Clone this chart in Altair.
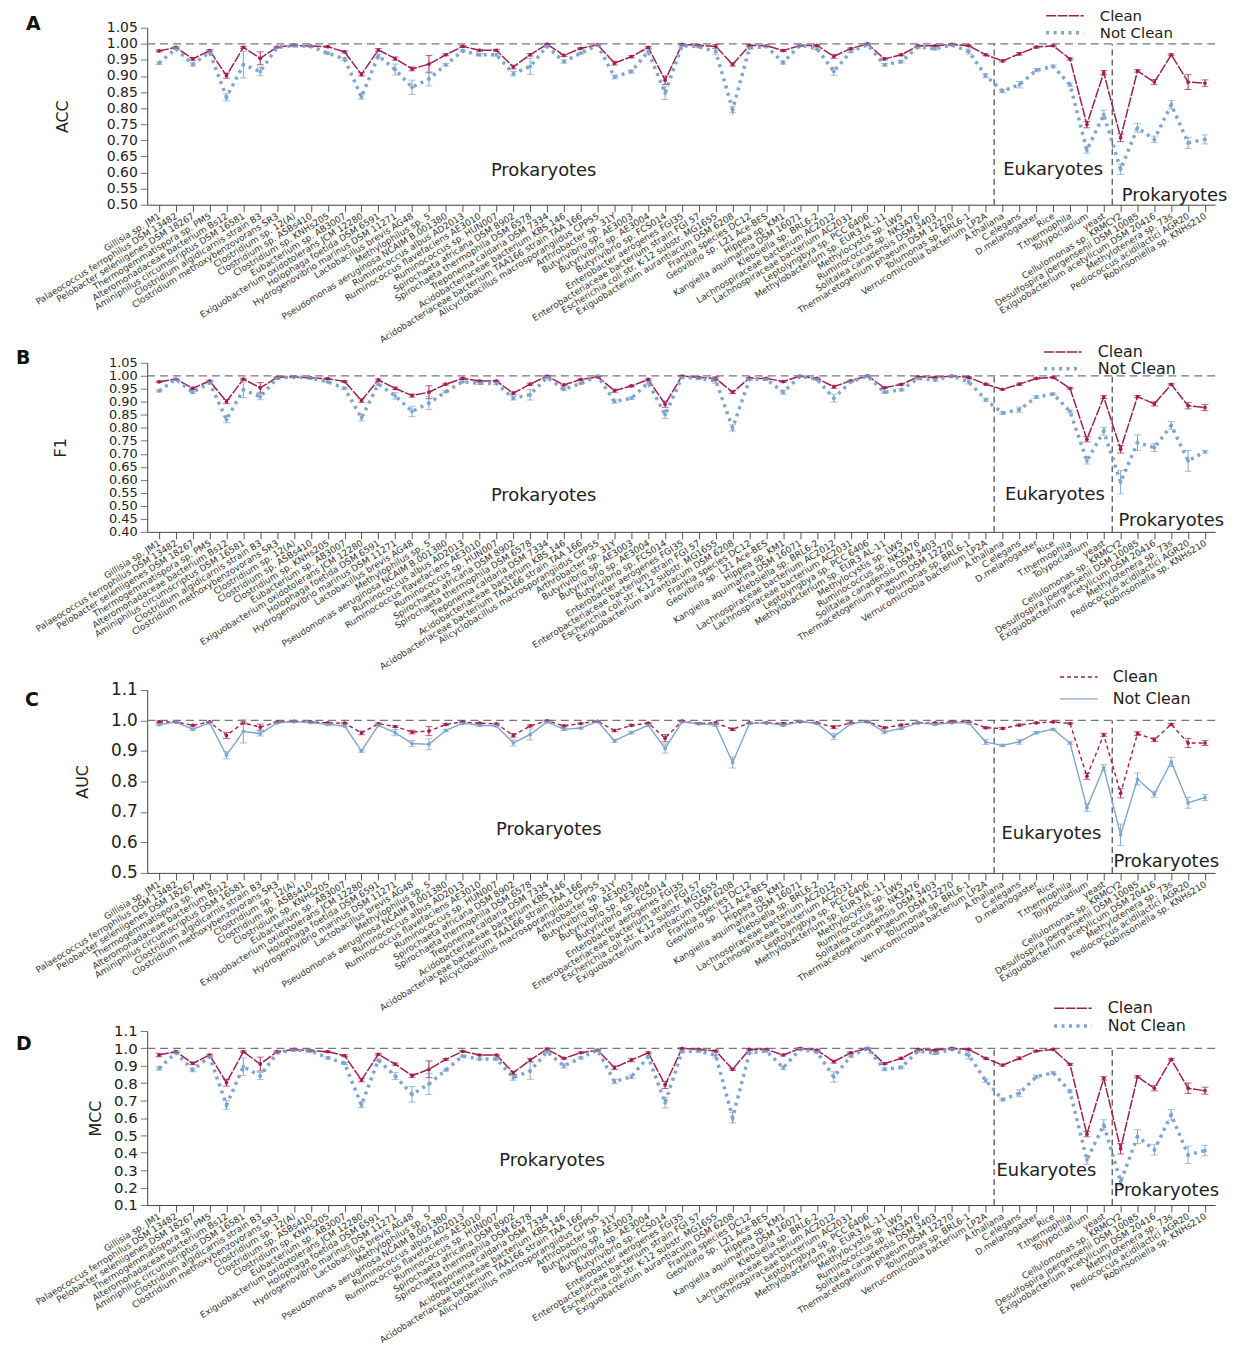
import json
import altair as alt
import pandas as pd

FONT = "DejaVu Sans"
CLEAN = "#A01F50"
NOTCLEAN = "#7FA5CF"
SERIES = ["Clean", "Not Clean"]

names = [
    "Gillisia sp. JM1", "Palaeococcus ferrophilus DSM 13482", "Pelobacter seleniigenes DSM 18267",
    "Thermogemmatispora sp. PM5", "Alteromonadaceae bacterium Bs12", "Aminiphilus circumscriptus DSM 16581",
    "Clostridium algidicarnis strain B3", "Clostridium methoxybenzovorans SR3", "Clostridium sp. 12(A)",
    "Clostridium sp. ASBs410", "Clostridium sp. KNHs205", "Eubacterium sp. AB3007",
    "Exiguobacterium oxidotolerans JCM 12280", "Holophaga foetida DSM 6591", "Hydrogenovibrio marinus DSM 11271",
    "Lactobacillus brevis AG48", "Methylophilus sp. 5", "Pseudomonas aeruginosa NCAIM B.001380",
    "Ruminococcus albus AD2013", "Ruminococcus flavefaciens AE3010", "Ruminococcus sp. HUN007",
    "Spirochaeta africana DSM 8902", "Spirochaeta thermophila DSM 6578", "Treponema caldaria DSM 7334",
    "Acidobacteriaceae bacterium KBS 146", "Acidobacteriaceae bacterium TAA166 strain TAA 166",
    "Alicyclobacillus macrosporangiidus CPP55", "Arthrobacter sp. 31Y", "Butyrivibrio sp. AE3003",
    "Butyrivibrio sp. AE3004", "Butyrivibrio sp. FCS014", "Enterobacter aerogenes FGI35",
    "Enterobacteriaceae bacterium strain FGI 57", "Escherichia coli str. K-12 substr. MG1655",
    "Exiguobacterium aurantiacum DSM 6208", "Frankia species DC12", "Geovibrio sp. L21 Ace-BES",
    "Hippea sp. KM1", "Kangiella aquimarina DSM 16071", "Klebsiella sp. BRL6-2",
    "Lachnospiraceae bacterium AC2012", "Lachnospiraceae bacterium AC2031", "Leptolyngbya sp. PCC 6406",
    "Methylobacterium sp. EUR3 AL-11", "Methylocystis sp. LW5", "Ruminococcus sp. NK3A76",
    "Solitalea canadensis DSM 3403", "Thermacetogenium phaeum DSM 12270", "Tolumonas sp. BRL6-1",
    "Verrucomicrobia bacterium LP2A", "A.thaliana", "C.elegans", "D.melanogaster", "Rice",
    "T.thermophila", "Tolypocladium", "yeast", "Cellulomonas sp. KRMCY2",
    "Desulfospira joergensenii DSM 10085", "Exiguobacterium acetylicum DSM 20416",
    "Methylotenera sp. 73s", "Pediococcus acidilactici AGR20", "Robinsoniella sp. KNHs210",
]

# ---- Panel A: ACC ----
acc_clean = [0.978, 0.989, 0.953, 0.979, 0.901, 0.989, 0.955, 0.990, 0.995, 0.993,
             0.991, 0.975, 0.905, 0.981, 0.954, 0.922, 0.937, 0.966, 0.992, 0.980,
             0.980, 0.928, 0.966, 0.999, 0.964, 0.986, 0.997, 0.940, 0.960, 0.989,
             0.887, 0.998, 0.995, 0.992, 0.936, 0.995, 0.994, 0.979, 0.995, 0.995,
             0.961, 0.985, 1.000, 0.953, 0.966, 0.994, 0.994, 0.998, 0.994, 0.966,
             0.947, 0.969, 0.990, 0.994, 0.953, 0.749, 0.911,
             0.708, 0.916, 0.881, 0.966, 0.881, 0.878]
acc_notclean = [0.940, 0.985, 0.936, 0.974, 0.834, 0.935, 0.914, 0.989, 0.994, 0.992,
                0.971, 0.953, 0.835, 0.963, 0.920, 0.865, 0.891, 0.935, 0.978, 0.966,
                0.966, 0.907, 0.930, 0.992, 0.945, 0.971, 0.996, 0.897, 0.914, 0.976,
                0.847, 0.994, 0.991, 0.976, 0.796, 0.987, 0.992, 0.942, 0.996, 0.985,
                0.914, 0.976, 0.997, 0.935, 0.945, 0.990, 0.985, 0.996, 0.976, 0.901,
                0.853, 0.873, 0.918, 0.930, 0.873, 0.670, 0.780,
                0.610, 0.739, 0.703, 0.811, 0.692, 0.703]
acc_clean_err = [0.003, 0.002, 0.004, 0.003, 0.008, 0.003, 0.020, 0.002, 0.002, 0.002,
                 0.002, 0.003, 0.005, 0.004, 0.005, 0.006, 0.027, 0.003, 0.003, 0.003,
                 0.003, 0.006, 0.004, 0.002, 0.003, 0.002, 0.002, 0.006, 0.003, 0.003,
                 0.013, 0.002, 0.002, 0.006, 0.005, 0.002, 0.002, 0.003, 0.002, 0.002,
                 0.006, 0.002, 0.002, 0.003, 0.003, 0.002, 0.002, 0.002, 0.002, 0.003,
                 0.003, 0.004, 0.003, 0.002, 0.003, 0.010, 0.006,
                 0.012, 0.004, 0.008, 0.003, 0.023, 0.010]
acc_notclean_err = [0.004, 0.003, 0.005, 0.004, 0.011, 0.041, 0.013, 0.003, 0.002, 0.002,
                    0.003, 0.004, 0.007, 0.005, 0.017, 0.022, 0.022, 0.004, 0.003, 0.004,
                    0.004, 0.007, 0.025, 0.003, 0.005, 0.003, 0.002, 0.006, 0.005, 0.005,
                    0.020, 0.003, 0.003, 0.010, 0.010, 0.003, 0.003, 0.005, 0.002, 0.003,
                    0.012, 0.003, 0.002, 0.004, 0.004, 0.003, 0.004, 0.002, 0.008, 0.006,
                    0.005, 0.010, 0.005, 0.004, 0.005, 0.010, 0.014,
                    0.016, 0.014, 0.010, 0.013, 0.017, 0.014]

# ---- Panel B: F1 ----
f1_clean = [0.977, 0.987, 0.952, 0.980, 0.901, 0.987, 0.954, 0.994, 0.996, 0.992,
            0.989, 0.978, 0.905, 0.984, 0.952, 0.924, 0.937, 0.968, 0.990, 0.980,
            0.980, 0.933, 0.968, 0.999, 0.965, 0.986, 0.996, 0.943, 0.961, 0.986,
            0.891, 0.999, 0.994, 0.990, 0.937, 0.991, 0.990, 0.978, 0.999, 0.990,
            0.958, 0.981, 1.000, 0.954, 0.967, 0.996, 0.994, 0.999, 0.994, 0.968,
            0.948, 0.968, 0.990, 0.994, 0.952, 0.756, 0.918,
            0.718, 0.920, 0.892, 0.967, 0.885, 0.878]
f1_notclean = [0.942, 0.987, 0.937, 0.973, 0.832, 0.946, 0.920, 0.991, 0.996, 0.991,
               0.977, 0.952, 0.838, 0.968, 0.923, 0.863, 0.895, 0.939, 0.977, 0.971,
               0.971, 0.914, 0.927, 0.994, 0.948, 0.971, 0.999, 0.901, 0.914, 0.973,
               0.851, 0.994, 0.990, 0.981, 0.800, 0.986, 0.987, 0.937, 0.999, 0.986,
               0.914, 0.977, 0.999, 0.937, 0.946, 0.990, 0.984, 0.999, 0.977, 0.908,
               0.857, 0.870, 0.918, 0.930, 0.863, 0.673, 0.787,
               0.591, 0.743, 0.724, 0.809, 0.673, 0.708]
f1_clean_err = [0.003, 0.002, 0.004, 0.003, 0.008, 0.003, 0.020, 0.002, 0.002, 0.002,
                0.002, 0.003, 0.007, 0.004, 0.005, 0.006, 0.025, 0.003, 0.003, 0.003,
                0.003, 0.006, 0.004, 0.002, 0.003, 0.002, 0.002, 0.006, 0.003, 0.003,
                0.012, 0.002, 0.002, 0.006, 0.005, 0.002, 0.002, 0.003, 0.002, 0.002,
                0.006, 0.002, 0.002, 0.003, 0.003, 0.002, 0.002, 0.002, 0.002, 0.003,
                0.003, 0.004, 0.003, 0.002, 0.003, 0.010, 0.006,
                0.015, 0.004, 0.008, 0.003, 0.012, 0.012]
f1_notclean_err = [0.004, 0.003, 0.005, 0.004, 0.012, 0.030, 0.012, 0.003, 0.002, 0.002,
                   0.003, 0.004, 0.012, 0.005, 0.012, 0.020, 0.025, 0.004, 0.003, 0.004,
                   0.004, 0.007, 0.020, 0.003, 0.005, 0.003, 0.002, 0.006, 0.005, 0.005,
                   0.015, 0.003, 0.003, 0.010, 0.012, 0.003, 0.003, 0.008, 0.002, 0.003,
                   0.015, 0.003, 0.002, 0.004, 0.004, 0.003, 0.004, 0.002, 0.008, 0.006,
                   0.005, 0.010, 0.005, 0.004, 0.005, 0.012, 0.015,
                   0.045, 0.030, 0.015, 0.015, 0.040, 0.005]

# ---- Panel C: AUC ----
auc_clean = [0.995, 0.995, 0.984, 0.995, 0.951, 0.992, 0.978, 0.995, 0.997, 0.995,
             0.992, 0.991, 0.959, 0.989, 0.980, 0.962, 0.965, 0.987, 0.995, 0.991,
             0.989, 0.951, 0.982, 0.999, 0.982, 0.990, 0.997, 0.967, 0.984, 0.991,
             0.942, 0.998, 0.990, 0.992, 0.971, 0.992, 0.992, 0.990, 0.996, 0.992,
             0.978, 0.992, 0.996, 0.976, 0.985, 0.992, 0.992, 0.995, 0.996, 0.976,
             0.974, 0.985, 0.992, 0.995, 0.990, 0.817, 0.953,
             0.761, 0.957, 0.937, 0.987, 0.926, 0.926]
auc_notclean = [0.986, 0.995, 0.971, 0.992, 0.886, 0.964, 0.957, 0.992, 0.996, 0.993,
                0.987, 0.982, 0.900, 0.984, 0.960, 0.924, 0.922, 0.967, 0.991, 0.984,
                0.982, 0.926, 0.954, 0.995, 0.971, 0.975, 0.997, 0.933, 0.960, 0.984,
                0.908, 0.995, 0.989, 0.985, 0.862, 0.990, 0.992, 0.984, 0.996, 0.990,
                0.947, 0.989, 0.996, 0.962, 0.974, 0.992, 0.987, 0.992, 0.992, 0.929,
                0.918, 0.930, 0.960, 0.971, 0.926, 0.714, 0.845,
                0.625, 0.808, 0.758, 0.864, 0.730, 0.747]
auc_clean_err = [0.003, 0.002, 0.003, 0.002, 0.010, 0.003, 0.010, 0.002, 0.002, 0.002,
                 0.002, 0.002, 0.006, 0.003, 0.003, 0.006, 0.015, 0.003, 0.002, 0.002,
                 0.002, 0.006, 0.003, 0.002, 0.003, 0.002, 0.002, 0.004, 0.003, 0.002,
                 0.012, 0.002, 0.002, 0.003, 0.004, 0.002, 0.002, 0.002, 0.002, 0.002,
                 0.005, 0.002, 0.002, 0.003, 0.003, 0.002, 0.002, 0.002, 0.002, 0.003,
                 0.003, 0.003, 0.002, 0.002, 0.002, 0.010, 0.005,
                 0.015, 0.006, 0.006, 0.003, 0.015, 0.008]
auc_notclean_err = [0.003, 0.002, 0.004, 0.003, 0.012, 0.038, 0.008, 0.002, 0.002, 0.002,
                    0.003, 0.003, 0.004, 0.003, 0.010, 0.010, 0.018, 0.004, 0.002, 0.003,
                    0.003, 0.010, 0.018, 0.002, 0.004, 0.003, 0.002, 0.005, 0.004, 0.003,
                    0.015, 0.002, 0.002, 0.005, 0.018, 0.002, 0.002, 0.004, 0.002, 0.002,
                    0.010, 0.002, 0.002, 0.004, 0.004, 0.002, 0.003, 0.002, 0.004, 0.008,
                    0.004, 0.008, 0.004, 0.003, 0.004, 0.012, 0.010,
                    0.035, 0.020, 0.010, 0.015, 0.018, 0.010]

# ---- Panel D: MCC ----
mcc_clean = [0.962, 0.981, 0.914, 0.962, 0.803, 0.981, 0.910, 0.981, 0.994, 0.987,
             0.981, 0.958, 0.818, 0.966, 0.910, 0.843, 0.880, 0.937, 0.983, 0.962,
             0.962, 0.860, 0.933, 0.996, 0.943, 0.975, 0.990, 0.889, 0.933, 0.975,
             0.790, 1.000, 0.994, 0.985, 0.880, 0.994, 0.994, 0.962, 1.000, 0.990,
             0.924, 0.975, 1.000, 0.912, 0.943, 0.994, 0.990, 1.000, 0.994, 0.943,
             0.904, 0.943, 0.985, 0.994, 0.908, 0.507, 0.828,
             0.423, 0.837, 0.771, 0.937, 0.771, 0.757]
mcc_notclean = [0.885, 0.975, 0.876, 0.952, 0.675, 0.895, 0.841, 0.975, 0.990, 0.985,
                0.946, 0.914, 0.675, 0.933, 0.841, 0.736, 0.795, 0.876, 0.956, 0.939,
                0.939, 0.832, 0.870, 0.981, 0.899, 0.946, 0.990, 0.809, 0.837, 0.952,
                0.688, 0.981, 0.985, 0.960, 0.602, 0.975, 0.985, 0.889, 0.994, 0.979,
                0.836, 0.956, 1.000, 0.880, 0.891, 0.985, 0.971, 0.994, 0.960, 0.815,
                0.706, 0.742, 0.837, 0.860, 0.753, 0.360, 0.560,
                0.235, 0.493, 0.417, 0.618, 0.388, 0.413]
mcc_clean_err = [0.010, 0.004, 0.006, 0.005, 0.020, 0.005, 0.040, 0.004, 0.004, 0.004,
                 0.004, 0.005, 0.010, 0.005, 0.006, 0.010, 0.048, 0.005, 0.004, 0.004,
                 0.004, 0.010, 0.010, 0.006, 0.005, 0.004, 0.004, 0.010, 0.010, 0.005,
                 0.020, 0.004, 0.004, 0.005, 0.006, 0.004, 0.004, 0.005, 0.004, 0.004,
                 0.008, 0.004, 0.004, 0.005, 0.006, 0.004, 0.004, 0.004, 0.004, 0.005,
                 0.005, 0.008, 0.004, 0.004, 0.005, 0.015, 0.010,
                 0.030, 0.006, 0.015, 0.005, 0.030, 0.020]
mcc_notclean_err = [0.010, 0.005, 0.010, 0.006, 0.025, 0.050, 0.020, 0.005, 0.005, 0.005,
                    0.006, 0.006, 0.015, 0.006, 0.020, 0.045, 0.060, 0.006, 0.005, 0.005,
                    0.005, 0.015, 0.048, 0.005, 0.012, 0.006, 0.005, 0.012, 0.010, 0.006,
                    0.030, 0.005, 0.005, 0.015, 0.030, 0.005, 0.005, 0.010, 0.005, 0.005,
                    0.030, 0.006, 0.005, 0.008, 0.008, 0.005, 0.006, 0.005, 0.020, 0.010,
                    0.008, 0.020, 0.008, 0.006, 0.008, 0.025, 0.030,
                    0.025, 0.040, 0.030, 0.030, 0.050, 0.030]

# tick label lists
acc_ticks = [0.50, 0.55, 0.60, 0.65, 0.70, 0.75, 0.80, 0.85, 0.90, 0.95, 1.00, 1.05]
f1_ticks = [0.40, 0.45, 0.50, 0.55, 0.60, 0.65, 0.70, 0.75, 0.80, 0.85, 0.90, 0.95, 1.00, 1.05]
auc_ticks = [0.5, 0.6, 0.7, 0.8, 0.9, 1.0, 1.1]
mcc_ticks = [0.1, 0.2, 0.3, 0.4, 0.5, 0.6, 0.7, 0.8, 0.9, 1.0, 1.1]

region_labels = ["Prokaryotes", "Eukaryotes", "Prokaryotes"]
boundaries = [names.index("A.thaliana") - 0.5, names.index("Cellulomonas sp. KRMCY2") - 0.5]

N = len(names)
X_DOMAIN = [-0.7, N - 0.4]

xaxis = alt.Axis(
    values=list(range(N)), labelExpr=json.dumps(names) + "[datum.value]",
    labelAngle=-32, labelAlign="right", labelBaseline="middle", labelFontSize=9,
    labelFont=FONT, labelColor="#333", labelLimit=600, labelOverlap=False,
    labelFlush=False, labelPadding=3, tickSize=7, tickColor="#555",
    domainColor="#444", grid=False, title=None,
)


def panel(letter, metric, clean, notclean, cerr, nerr, ydom, yticks, yfmt, height,
          ann_pos, legend_pos, dashes, widths, title_pos, ylab_size, ytitle_pad):
    rows = []
    for s, vals, errs in (("Clean", clean, cerr), ("Not Clean", notclean, nerr)):
        for i, (v, e) in enumerate(zip(vals, errs)):
            rows.append({"idx": i, "series": s, "value": v, "lo": v - e, "hi": v + e})
    df = pd.DataFrame(rows)

    xs = alt.Scale(domain=X_DOMAIN, nice=False, zero=False)
    ys = alt.Scale(domain=ydom, nice=False, zero=False)
    yaxis = alt.Axis(values=yticks, format=yfmt, title=metric, titleFont=FONT,
                     titleFontSize=16, titleFontWeight="normal", titleColor="#222",
                     titlePadding=ytitle_pad, labelFont=FONT, labelFontSize=ylab_size,
                     labelColor="#222", labelOverlap=False, labelPadding=3,
                     tickSize=7, tickColor="#777", domainColor="#444", grid=False)

    def X(f):
        return alt.X(f, type="quantitative", scale=xs, axis=xaxis)

    def Y(f):
        return alt.Y(f, type="quantitative", scale=ys, axis=yaxis)

    cs = alt.Scale(domain=SERIES, range=[CLEAN, NOTCLEAN])
    leg = alt.Legend(orient="none", legendX=legend_pos[0], legendY=legend_pos[1],
                     title=None, labelFont=FONT, labelFontSize=legend_pos[3], labelColor="#222",
                     symbolType="M-2.7,0H2.7", symbolSize=196, labelOffset=26,
                     rowPadding=legend_pos[2], padding=0)

    ref = alt.Chart(pd.DataFrame({"value": [1.0]})).mark_rule(
        strokeDash=[8, 5], color="#777", strokeWidth=1.3).encode(y=Y("value"))

    bdf = pd.DataFrame({"idx": boundaries, "value": [ydom[0]] * 2, "top": [1.0, 1.0]})
    vlines = alt.Chart(bdf).mark_rule(strokeDash=[6, 4], color="#222", strokeWidth=1).encode(
        x=X("idx"), y=Y("value"), y2="top:Q")

    line = alt.Chart(df).mark_line(
        point=alt.OverlayMarkDef(filled=True, size=14)
    ).encode(
        x=X("idx"), y=Y("value"),
        color=alt.Color("series:N", scale=cs, legend=leg),
        strokeDash=alt.StrokeDash("series:N", scale=alt.Scale(domain=SERIES, range=dashes), legend=leg),
        strokeWidth=alt.StrokeWidth("series:N", scale=alt.Scale(domain=SERIES, range=widths), legend=leg),
    )

    ecol = alt.Color("series:N", scale=cs, legend=None)
    ebar = alt.Chart(df).mark_rule(strokeWidth=1).encode(x=X("idx"), y=Y("lo"), y2="hi:Q", color=ecol)
    cap_lo = alt.Chart(df).mark_tick(orient="horizontal", size=7, thickness=1).encode(
        x=X("idx"), y=Y("lo"), color=ecol)
    cap_hi = alt.Chart(df).mark_tick(orient="horizontal", size=7, thickness=1).encode(
        x=X("idx"), y=Y("hi"), color=ecol)

    adf = pd.DataFrame({"idx": [p[0] for p in ann_pos], "value": [p[1] for p in ann_pos],
                        "label": region_labels})
    texts = alt.Chart(adf).mark_text(font=FONT, fontSize=18, color="#222", align="center",
                                     baseline="middle").encode(x=X("idx"), y=Y("value"), text="label:N")

    return alt.layer(ref, vlines, line, ebar, cap_lo, cap_hi, texts).properties(
        width=1074, height=height,
        title=alt.TitleParams(letter, anchor="start", frame="group", dx=title_pos[0], dy=title_pos[1],
                              offset=0, fontSize=19, fontWeight="bold", font=FONT,
                              color="#111", baseline="alphabetic"),
    )


dash_dotted = [[10, 1.5], [3, 4.5]]
w_dotted = [1.5, 3.5]

pA = panel("A", "ACC", acc_clean, acc_notclean, acc_clean_err, acc_notclean_err,
           [0.5, 1.05], acc_ticks, ".2f", 178,
           [(22.8, 0.605), (53.0, 0.608), (60.2, 0.528)], (914, -20, 0, 15),
           dash_dotted, w_dotted, (-122, 41), 14, 36)
pB = panel("B", "F1", f1_clean, f1_notclean, f1_clean_err, f1_notclean_err,
           [0.4, 1.05], f1_ticks, ".2f", 170,
           [(22.8, 0.537), (53.1, 0.541), (60.0, 0.442)], (912, -19, 0, 16),
           dash_dotted, w_dotted, (-132, 39), 13, 40)
pC = panel("C", "AUC", auc_clean, auc_notclean, auc_clean_err, auc_notclean_err,
           [0.5, 1.1], auc_ticks, ".1f", 184,
           [(23.1, 0.640), (52.9, 0.627), (59.7, 0.536)], (929, -21, 6, 16),
           [[4, 3], [1, 0]], [1.4, 1.4], (-123, 56), 17, 20)
pD = panel("D", "MCC", mcc_clean, mcc_notclean, mcc_clean_err, mcc_notclean_err,
           [0.1, 1.1], mcc_ticks, ".1f", 175,
           [(23.3, 0.351), (52.6, 0.294), (59.7, 0.180)], (922, -31, 1, 16),
           dash_dotted, w_dotted, (-132, 69), 15, 10)

chart = alt.vconcat(
    pA, pB, pC, pD, spacing=159, bounds="flush",
    padding={"left": 8, "top": -4, "right": 5, "bottom": 5},
).resolve_scale(
    x="independent", y="independent", color="independent",
    strokeDash="independent", strokeWidth="independent",
).resolve_legend(
    color="independent", strokeDash="independent", strokeWidth="independent",
).configure_view(stroke=None)

chart.save("out.html", embed_options={"renderer": "svg", "actions": False})
